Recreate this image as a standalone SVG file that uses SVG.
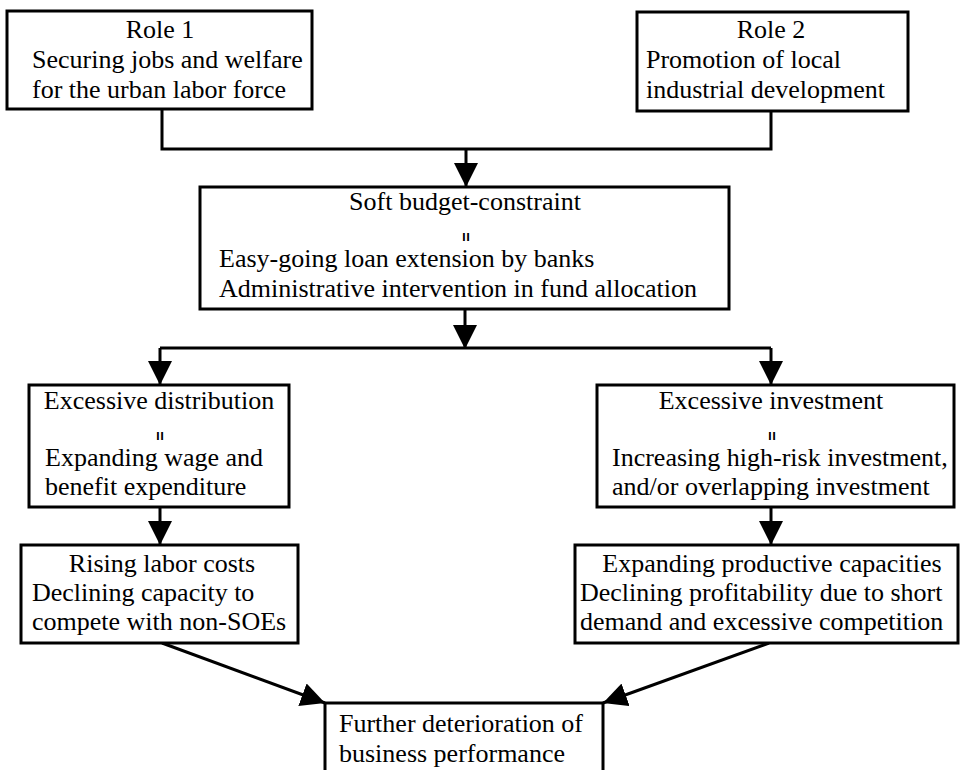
<svg xmlns="http://www.w3.org/2000/svg" width="964" height="770" viewBox="0 0 964 770">
<style>
  .box { fill: #ffffff; stroke: #000000; stroke-width: 3; }
  .t { font-family: "Liberation Serif", "Times New Roman", serif; font-size: 26px; fill: #000000; }
  .c { text-anchor: middle; }
  .eq { font-family: "Liberation Sans", Arial, sans-serif; font-size: 16px; font-weight: bold; fill: #000000; text-anchor: middle; dominant-baseline: central; }
  .ln { fill: none; stroke: #000000; stroke-width: 3; }
</style>
<defs>
  <marker id="ah" markerUnits="userSpaceOnUse" markerWidth="24" markerHeight="24" refX="24" refY="12" orient="auto" viewBox="0 0 24 24">
    <path d="M0,0 L24,12 L0,24 z" fill="#000000"/>
  </marker>
</defs>
<rect width="964" height="770" fill="#ffffff"/>

<g id="connectors">
  <polyline class="ln" points="162,109 162,149 771,149 771,111"/>
  <line class="ln" x1="466" y1="149" x2="466" y2="187" marker-end="url(#ah)"/>
  <line class="ln" x1="465" y1="309" x2="465" y2="349" marker-end="url(#ah)"/>
  <polyline class="ln" points="160,348 771,348"/>
  <line class="ln" x1="160" y1="348" x2="160" y2="385" marker-end="url(#ah)"/>
  <line class="ln" x1="771" y1="348" x2="771" y2="385" marker-end="url(#ah)"/>
  <line class="ln" x1="160" y1="507" x2="160" y2="545" marker-end="url(#ah)"/>
  <line class="ln" x1="771" y1="507" x2="771" y2="545" marker-end="url(#ah)"/>
  <line class="ln" x1="162" y1="643" x2="325" y2="703" marker-end="url(#ah)"/>
  <line class="ln" x1="769" y1="643" x2="603" y2="703" marker-end="url(#ah)"/>
</g>

<g id="role1">
  <rect class="box" x="7" y="11" width="305" height="98"/>
  <text class="t c" x="160" y="38">Role 1</text>
  <text class="t" x="32" y="68">Securing jobs and welfare</text>
  <text class="t" x="32" y="98">for the urban labor force</text>
</g>

<g id="role2">
  <rect class="box" x="637" y="12" width="271" height="99"/>
  <text class="t c" x="771" y="38">Role 2</text>
  <text class="t" x="646" y="68">Promotion of local</text>
  <text class="t" x="646" y="98">industrial development</text>
</g>

<g id="soft-budget">
  <rect class="box" x="200" y="187" width="529" height="122"/>
  <text class="t c" x="465" y="210">Soft budget-constraint</text>
  <text class="eq" x="0" y="0" transform="translate(465,237) rotate(90)">=</text>
  <text class="t" x="219" y="267">Easy-going loan extension by banks</text>
  <text class="t" x="219" y="297">Administrative intervention in fund allocation</text>
</g>

<g id="excessive-distribution">
  <rect class="box" x="29" y="385" width="260" height="122"/>
  <text class="t c" x="159" y="409">Excessive distribution</text>
  <text class="eq" x="0" y="0" transform="translate(159,436) rotate(90)">=</text>
  <text class="t" x="45" y="466">Expanding wage and</text>
  <text class="t" x="45" y="495">benefit expenditure</text>
</g>

<g id="excessive-investment">
  <rect class="box" x="597" y="385" width="357" height="122"/>
  <text class="t c" x="771" y="409">Excessive investment</text>
  <text class="eq" x="0" y="0" transform="translate(771,436) rotate(90)">=</text>
  <text class="t" x="612" y="466">Increasing high-risk investment,</text>
  <text class="t" x="612" y="495">and/or overlapping investment</text>
</g>

<g id="rising-labor-costs">
  <rect class="box" x="21" y="545" width="277" height="98"/>
  <text class="t c" x="162" y="572">Rising labor costs</text>
  <text class="t" x="32" y="601">Declining capacity to</text>
  <text class="t" x="32" y="630">compete with non-SOEs</text>
</g>

<g id="expanding-capacities">
  <rect class="box" x="575" y="545" width="383" height="98"/>
  <text class="t c" x="772" y="572">Expanding productive capacities</text>
  <text class="t" x="580" y="601">Declining profitability due to short</text>
  <text class="t" x="580" y="630">demand and excessive competition</text>
</g>

<g id="further-deterioration">
  <rect class="box" x="325" y="703" width="278" height="80"/>
  <text class="t" x="339" y="732">Further deterioration of</text>
  <text class="t" x="339" y="762">business performance</text>
</g>
</svg>
